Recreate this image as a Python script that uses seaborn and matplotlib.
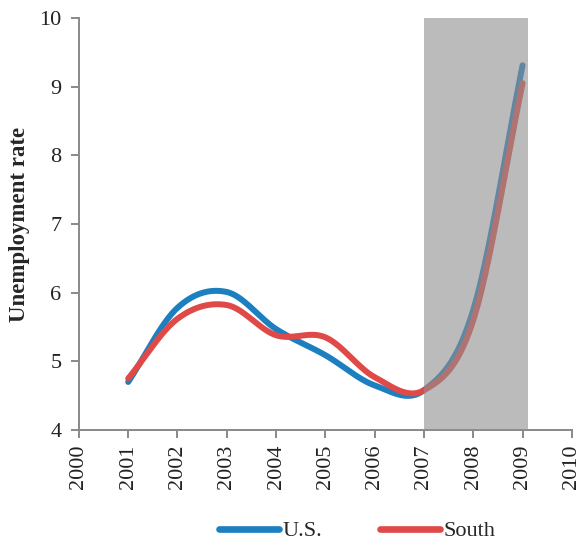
import numpy as np
import pandas as pd
import matplotlib
matplotlib.use("Agg")
import matplotlib.pyplot as plt
import seaborn as sns

years = [2001, 2002, 2003, 2004, 2005, 2006, 2007, 2008, 2009]
us = [4.7, 5.78, 6.01, 5.47, 5.09, 4.65, 4.58, 5.75, 9.31]
south = [4.75, 5.62, 5.82, 5.38, 5.35, 4.77, 4.58, 5.6, 9.05]
series_names = ["U.S.", "South"]
colors = ["#1b7fc0", "#df4a48"]
x_ticks = list(range(2000, 2011))
y_ticks = [4, 5, 6, 7, 8, 9, 10]
recession = [2007, 2009.1]


def smooth(x, y, n=30):
    # Catmull-Rom style smoothing (as in spreadsheet "smoothed line")
    x = np.asarray(x, float)
    y = np.asarray(y, float)
    px = np.concatenate([[2 * x[0] - x[1]], x, [2 * x[-1] - x[-2]]])
    py = np.concatenate([[2 * y[0] - y[1]], y, [2 * y[-1] - y[-2]]])
    xs, ys = [], []
    for i in range(1, len(px) - 2):
        p0, p1, p2, p3 = (np.array([px[j], py[j]]) for j in range(i - 1, i + 3))
        c1 = p1 + (p2 - p0) / 6
        c2 = p2 - (p3 - p1) / 6
        t = np.linspace(0, 1, n, endpoint=(i == len(px) - 3))[:, None]
        b = ((1 - t) ** 3) * p1 + 3 * ((1 - t) ** 2) * t * c1 + 3 * (1 - t) * t ** 2 * c2 + t ** 3 * p2
        xs.extend(b[:, 0])
        ys.extend(b[:, 1])
    return xs, ys


sns.set_style("white")
plt.rcParams["font.family"] = "serif"
plt.rcParams["font.serif"] = ["Liberation Serif", "Times New Roman", "DejaVu Serif"]

fig = plt.figure(figsize=(5.8, 5.43), dpi=100)
ax = fig.add_axes([0.136, 0.208, 0.85, 0.759])

for name, vals, c in zip(series_names, [us, south], colors):
    sx, sy = smooth(years, vals)
    sub = pd.DataFrame({"year": sx, "rate": sy})
    sns.lineplot(data=sub, x="year", y="rate", sort=False, estimator=None,
                 color=c, linewidth=4.3, ax=ax, label=name,
                 solid_capstyle="round")

ax.axvspan(recession[0], recession[1], ymin=0, ymax=1, color="#8f8f8f",
           alpha=0.6, lw=0, zorder=5)

ax.set_xlim(2000, 2010)
ax.set_ylim(4, 10)
ax.set_xticks(x_ticks)
ax.set_xticklabels([str(v) for v in x_ticks], rotation=90, fontsize=16)
ax.set_yticks(y_ticks)
ax.set_yticklabels([str(v) for v in y_ticks], fontsize=16)
ax.set_xlabel("")
ax.set_ylabel("Unemployment rate", fontsize=16.5, fontweight="bold", labelpad=7)

for s in ["top", "right"]:
    ax.spines[s].set_visible(False)
for s in ["left", "bottom"]:
    ax.spines[s].set_color("#898989")
    ax.spines[s].set_linewidth(1.4)
ax.tick_params(axis="both", which="major", direction="out", length=5.5,
               width=1.4, color="#898989", labelcolor="#222222")
ax.tick_params(axis="x", bottom=True, pad=5)
ax.tick_params(axis="y", left=True, pad=7)

ax.get_legend().remove()
handles, labels = ax.get_legend_handles_labels()
leg = fig.legend(handles, labels, loc="center", bbox_to_anchor=(0.616, 0.022), ncol=2,
                 frameon=False, fontsize=16, handlelength=2.7, handletextpad=0.15,
                 columnspacing=2.6, borderpad=0)
for h in leg.get_lines():
    h.set_linewidth(4.8)
    h.set_solid_capstyle("round")

fig.savefig("out.png", dpi=100)
